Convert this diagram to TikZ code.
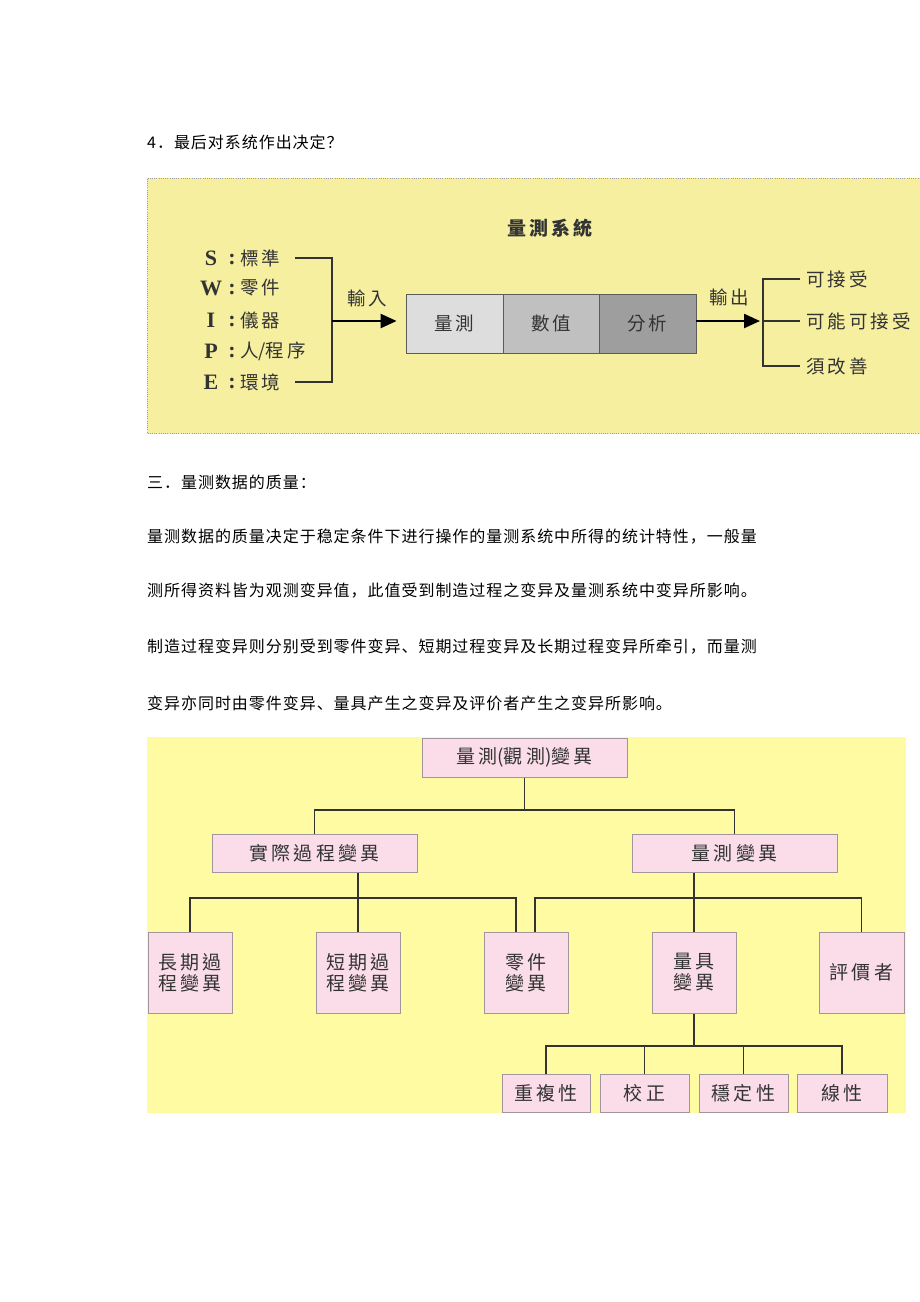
\documentclass[tikz,border=0pt]{standalone}
\usepackage{fontspec}
\usetikzlibrary{arrows.meta,calc}
\newfontfamily\scfont[LetterSpace=6]{Noto Sans CJK SC}
\newfontfamily\tcfont[LetterSpace=16]{Noto Sans CJK TC}
\newfontfamily\serfont{Liberation Serif}
\definecolor{topyel}{RGB}{246,239,160}
\definecolor{botyel}{RGB}{255,251,163}
\definecolor{pinkb}{RGB}{250,221,232}
\definecolor{pinkd}{RGB}{160,150,155}
\definecolor{gA}{RGB}{221,221,221}
\definecolor{gB}{RGB}{192,192,192}
\definecolor{gC}{RGB}{158,158,158}
\definecolor{ink}{RGB}{51,51,51}
\tikzset{
  bodytxt/.style={anchor=west,inner sep=0pt,font=\scfont\fontsize{16}{18}\selectfont,text=black},
  lab/.style={inner sep=0pt,font=\tcfont\fontsize{18.5}{20}\selectfont,text=ink},
  letr/.style={inner sep=0pt,font=\serfont\bfseries\fontsize{22}{24}\selectfont,text=ink},
  sysbox/.style={draw=ink!80,line width=0.8pt,minimum width=97pt,minimum height=59pt,inner sep=0pt,font=\tcfont\fontsize{18.5}{20}\selectfont,text=ink},
  brk/.style={draw=ink,line width=1.1pt},
  arr/.style={draw=black,line width=2.4pt,-{Triangle[length=16pt,width=14pt]}},
  pbox/.style={draw=pinkd,line width=1pt,fill=pinkb,inner sep=0pt,align=center,font=\tcfont\fontsize{19}{21}\selectfont,text=ink},
  con/.style={draw=ink,line width=1.7pt}
}
\newcommand{\np}[1]{{\addfontfeature{LetterSpace=0}#1}}
\begin{document}
\begin{tikzpicture}[x=1pt,y=-1pt]
\useasboundingbox (0,0) rectangle (920,1302);
\fill[white] (0,0) rectangle (920,1302);

% body text
\node[bodytxt] (t0) at (147,142) {4．最后对系统作出决定？};
\node[bodytxt] (t1) at (147,482) {三．量测数据的质量：};
\node[bodytxt] (t2) at (147,537) {量测数据的质量决定于稳定条件下进行操作的量测系统中所得的统计特性，一般量};
\node[bodytxt] (t3) at (147,591) {测所得资料皆为观测变异值，此值受到制造过程之变异及量测系统中变异所影响。};
\node[bodytxt] (t4) at (147,647) {制造过程变异则分别受到零件变异、短期过程变异及长期过程变异所牵引，而量测};
\node[bodytxt] (t5) at (147,703) {变异亦同时由零件变异、量具产生之变异及评价者产生之变异所影响。};

% top diagram background
\fill[topyel] (147,178) rectangle (925,434);
\draw[gray!75,line width=1pt,dash pattern=on 1pt off 1.2pt] (147.5,178.5) -- (925,178.5);
\draw[gray!75,line width=1pt,dash pattern=on 1pt off 1.2pt] (147.5,433.5) -- (925,433.5);
\draw[gray!75,line width=1pt,dash pattern=on 1pt off 1.2pt] (147.5,178.5) -- (147.5,433.5);

\node[lab,font=\tcfont\bfseries\fontsize{19}{20}\selectfont] (title) at (550,228) {量測系統};

% inputs
\foreach \L/\T/\Y/\n in {S/{標準}/258/S,W/{零件}/288/W,I/{儀器}/320/I,P/{人\np{/}程序}/351/P,E/{環境}/382/E}{
  \node[letr] (l\n) at (211,\Y) {\L};
  \node[letr] (c\n) at (232,\Y+1) {:};
  \node[lab,anchor=west] (x\n) at (240,\Y) {\T};
}
\coordinate (bS) at (295,258);
\coordinate (bE) at (295,382);
\coordinate (jin) at (332,321);
\draw[brk] (bS) -| (bE -| jin) -- (bE);
\node[lab] (inl) at (367,298) {輸入};

% system boxes
\node[sysbox,fill=gA] (s1) at (454.5,323.5) {量測};
\node[sysbox,fill=gB,minimum width=96pt] (s2) at (551,323.5) {數值};
\node[sysbox,fill=gC] (s3) at (647.5,323.5) {分析};
\draw[arr,shorten >=9pt] (jin) -- (jin -| s1.west);

% outputs
\coordinate (jout) at (763,321);
\coordinate (oA) at (800,279);
\coordinate (oB) at (800,321);
\coordinate (oC) at (800,366);
\draw[arr,shorten >=3pt] (s3.east |- jout) -- (jout);
\draw[brk] (oA) -| (oC -| jout) -- (oC);
\draw[brk] (jout) -- (oB);
\node[lab] (outl) at (729,297) {輸出};
\node[lab,anchor=west] (r1) at (806,279) {可接受};
\node[lab,anchor=west] (r2) at (806,321) {可能可接受};
\node[lab,anchor=west] (r3) at (806,366) {須改善};

% bottom tree
\fill[botyel] (147,737) rectangle (906,1113);
\node[pbox,minimum width=205pt,minimum height=39pt] (root) at (524.5,757.5) {量測\np{(}觀測\np{)}變異};
\node[pbox,minimum width=205pt,minimum height=38pt] (real) at (314.5,853) {實際過程變異};
\node[pbox,minimum width=205pt,minimum height=38pt] (meas) at (734.5,853) {量測變異};
\node[pbox,minimum width=84pt,minimum height=81pt] (longp) at (190,972.5) {長期過\\程變異};
\node[pbox,minimum width=84pt,minimum height=81pt] (shortp) at (358,972.5) {短期過\\程變異};
\node[pbox,minimum width=84pt,minimum height=81pt] (partv) at (526,972.5) {零件\\變異};
\node[pbox,minimum width=84pt,minimum height=81pt] (gauge) at (694,972.5) {量具\\變異};
\node[pbox,minimum width=85pt,minimum height=81pt] (evalr) at (861.5,972.5) {評價者};
\node[pbox,minimum width=88pt,minimum height=38pt] (rep) at (546,1093) {重複性};
\node[pbox,minimum width=89pt,minimum height=38pt] (cal) at (644.5,1093) {校正};
\node[pbox,minimum width=89pt,minimum height=38pt] (stab) at (743.5,1093) {穩定性};
\node[pbox,minimum width=90pt,minimum height=38pt] (lin) at (842,1093) {線性};

\coordinate (h0) at (0,810);
\coordinate (h1) at (0,898);
\coordinate (h2) at (0,1046);
\coordinate (pl) at ([xshift=-10pt]partv.north);
\coordinate (pr) at ([xshift=9pt]partv.north);

\draw[con] (root.south) -- (root.south |- h0);
\draw[con] (real.north) -- (real.north |- h0) -- (meas.north |- h0) -- (meas.north);
\draw[con] (real.south -| shortp.north) -- (shortp.north);
\draw[con] (longp.north) -- (longp.north |- h1) -- (pl |- h1) -- (pl);
\draw[con] (meas.south -| gauge.north) -- (gauge.north);
\draw[con] (pr) -- (pr |- h1) -- (evalr.north |- h1) -- (evalr.north);
\draw[con] (gauge.south) -- (gauge.south |- h2);
\draw[con] (rep.north) -- (rep.north |- h2) -- (lin.north |- h2) -- (lin.north);
\draw[con] (cal.north) -- (cal.north |- h2);
\draw[con] (stab.north) -- (stab.north |- h2);
\end{tikzpicture}
\end{document}
